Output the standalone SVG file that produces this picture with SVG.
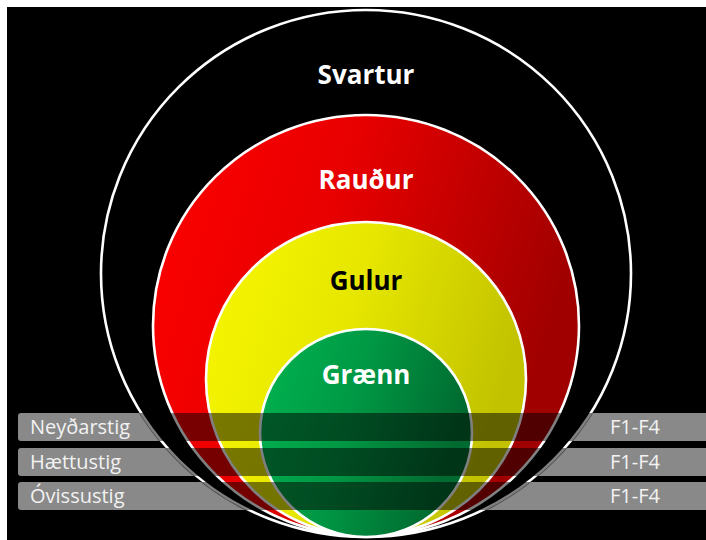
<svg xmlns="http://www.w3.org/2000/svg" width="706" height="540" viewBox="0 0 706 540">
  <defs>
    <linearGradient id="gRed" x1="0" y1="0" x2="1" y2="0.3">
      <stop offset="0" stop-color="#ff0000"/>
      <stop offset="0.45" stop-color="#e80000"/>
      <stop offset="1" stop-color="#a00000"/>
    </linearGradient>
    <linearGradient id="gYellow" x1="0" y1="0" x2="1" y2="0.3">
      <stop offset="0" stop-color="#f8f800"/>
      <stop offset="0.5" stop-color="#e6e600"/>
      <stop offset="1" stop-color="#c2c200"/>
    </linearGradient>
    <linearGradient id="gGreen" x1="0" y1="0" x2="1" y2="0.3">
      <stop offset="0" stop-color="#00b550"/>
      <stop offset="0.5" stop-color="#009844"/>
      <stop offset="1" stop-color="#006a30"/>
    </linearGradient>
    <clipPath id="outerClip">
      <ellipse cx="366" cy="273.5" rx="267" ry="265.5"/>
    </clipPath>
    <style>
      .ring { stroke: #ffffff; stroke-width: 2.6; }
      .title { font-family: "Open Sans", "Liberation Sans", sans-serif; font-weight: bold; font-size: 26px; text-anchor: middle; }
      .bar { fill: #898989; }
      .barText { font-family: "Open Sans", "Liberation Sans", sans-serif; font-size: 20px; fill: #f2f2f2; }
      .shade { fill: #000000; fill-opacity: 0.5; }
    </style>
  </defs>

  <rect x="0" y="0" width="706" height="540" fill="#ffffff"/>
  <rect x="7" y="7" width="699" height="533" fill="#000000"/>

  <g id="bar-neydarstig">
    <rect class="bar" x="18" y="413" width="700" height="28" rx="3"/>
    <text class="barText" x="30" y="434">Neyðarstig</text>
    <text class="barText" x="610" y="434">F1-F4</text>
  </g>
  <g id="bar-haettustig">
    <rect class="bar" x="18" y="448" width="700" height="28" rx="3"/>
    <text class="barText" x="30" y="469">Hættustig</text>
    <text class="barText" x="610" y="469">F1-F4</text>
  </g>
  <g id="bar-ovissustig">
    <rect class="bar" x="18" y="482" width="700" height="28" rx="3"/>
    <text class="barText" x="30" y="503">Óvissustig</text>
    <text class="barText" x="610" y="503">F1-F4</text>
  </g>

  <g id="svartur">
    <ellipse class="ring" cx="366" cy="273.5" rx="265" ry="263.5" fill="#000000"/>
    <text class="title" x="366" y="84" fill="#ffffff">Svartur</text>
  </g>
  <g id="raudur">
    <ellipse class="ring" cx="366" cy="325.5" rx="213" ry="210.5" fill="url(#gRed)"/>
    <text class="title" x="366" y="189" fill="#ffffff">Rauður</text>
  </g>
  <g id="gulur">
    <ellipse class="ring" cx="366" cy="379" rx="160" ry="157" fill="url(#gYellow)"/>
    <text class="title" x="366" y="290" fill="#000000">Gulur</text>
  </g>
  <g id="graenn">
    <ellipse class="ring" cx="366" cy="433" rx="106" ry="104" fill="url(#gGreen)"/>
    <text class="title" x="366" y="384" fill="#ffffff">Grænn</text>
  </g>

  <g id="bar-shading" clip-path="url(#outerClip)">
    <rect class="shade" x="18" y="413" width="700" height="28"/>
    <rect class="shade" x="18" y="448" width="700" height="28"/>
    <rect class="shade" x="18" y="482" width="700" height="28"/>
  </g>

  <g id="connectors"/>
</svg>
